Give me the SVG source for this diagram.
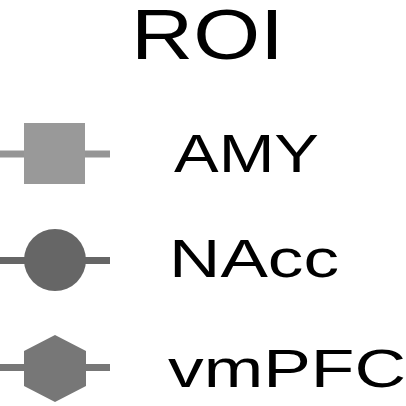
<svg xmlns="http://www.w3.org/2000/svg" width="406" height="406" viewBox="0 0 406 406">
<style>
text{font-family:"Liberation Sans",Arial,sans-serif;fill:#000}
.lab{font-size:54px}
</style>
<rect width="406" height="406" fill="#fff"/>
<text x="131" y="59" style="font-size:70px" textLength="153" lengthAdjust="spacingAndGlyphs">ROI</text>
<g id="connectors">
<line x1="0" y1="154" x2="110" y2="154" stroke="#959595" stroke-width="7"/>
<line x1="0" y1="260.5" x2="110" y2="260.5" stroke="#666" stroke-width="7"/>
<line x1="0" y1="367.5" x2="110" y2="367.5" stroke="#777" stroke-width="7"/>
</g>
<g id="amy">
<rect x="24" y="123" width="61" height="61" fill="#999"/>
<text class="lab" x="174" y="172" textLength="145" lengthAdjust="spacingAndGlyphs">AMY</text>
</g>
<g id="nacc">
<circle cx="55" cy="260" r="31" fill="#666"/>
<text class="lab" x="169" y="277" textLength="170" lengthAdjust="spacingAndGlyphs">NAcc</text>
</g>
<g id="vmpfc">
<polygon points="55,335 86,351 86,386 55,402 24,386 24,351" fill="#777"/>
<text class="lab" x="168" y="387" textLength="238" lengthAdjust="spacingAndGlyphs">vmPFC</text>
</g>
</svg>
